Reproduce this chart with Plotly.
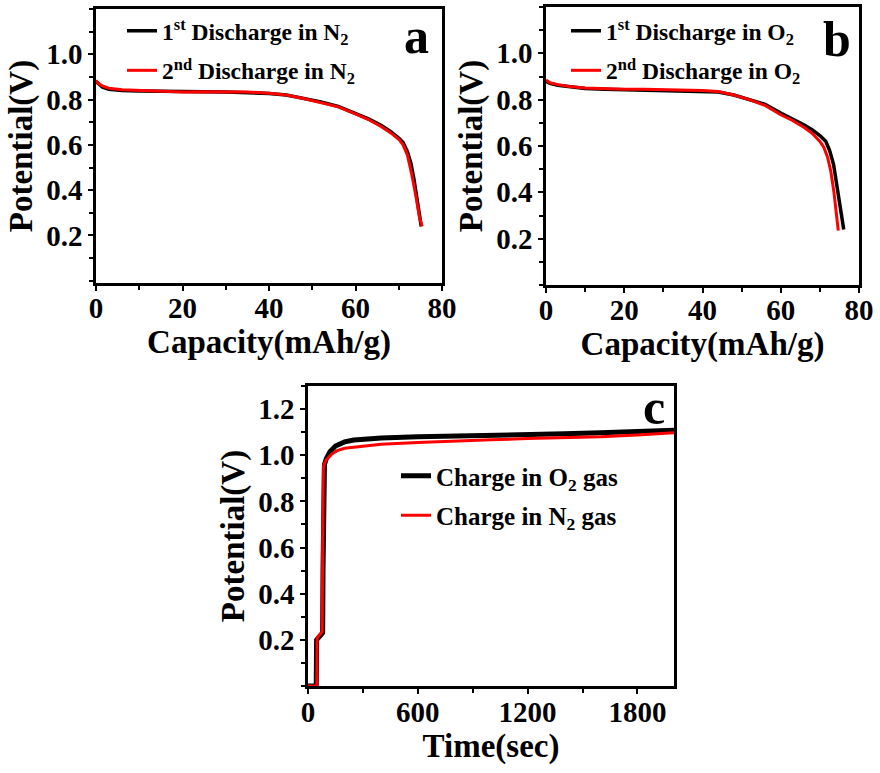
import plotly.graph_objects as go

# ---- Data ----
cap_a1 = [0, 0.5, 1.5, 3, 6, 10, 15, 20, 25, 30, 35, 40, 44, 48, 52, 56, 60, 63, 66, 68, 70, 71, 72, 72.8, 73.5, 74.2, 74.8, 75.2]
pot_a1 = [0.88, 0.87, 0.855, 0.845, 0.84, 0.838, 0.836, 0.834, 0.835, 0.834, 0.832, 0.827, 0.82, 0.805, 0.79, 0.77, 0.74, 0.715, 0.685, 0.66, 0.63, 0.61, 0.57, 0.52, 0.45, 0.37, 0.29, 0.24]
cap_a2 = [0, 0.5, 1.5, 3, 6, 10, 15, 20, 25, 30, 35, 40, 44, 48, 52, 56, 60, 63, 66, 68, 70, 71, 72, 73, 74, 74.8, 75.4]
pot_a2 = [0.885, 0.872, 0.86, 0.85, 0.843, 0.84, 0.836, 0.833, 0.835, 0.836, 0.834, 0.828, 0.82, 0.805, 0.788, 0.768, 0.737, 0.712, 0.68, 0.655, 0.625, 0.60, 0.555, 0.47, 0.37, 0.28, 0.24]

cap_b1 = [0, 1, 3, 6, 10, 15, 20, 25, 30, 35, 40, 44, 48, 52, 56, 60, 63, 66, 68, 70, 71.5, 72.5, 73.5, 74.3, 75, 75.6, 76.1]
pot_b1 = [0.88, 0.87, 0.862, 0.855, 0.848, 0.845, 0.843, 0.842, 0.84, 0.84, 0.838, 0.833, 0.82, 0.80, 0.78, 0.742, 0.717, 0.69, 0.67, 0.645, 0.62, 0.58, 0.52, 0.44, 0.36, 0.29, 0.24]
cap_b2 = [0, 1, 3, 6, 10, 15, 20, 25, 30, 35, 40, 44, 48, 52, 56, 60, 63, 66, 68, 70, 71, 72, 72.8, 73.6, 74.2, 74.7]
pot_b2 = [0.885, 0.873, 0.865, 0.857, 0.85, 0.847, 0.845, 0.845, 0.843, 0.843, 0.84, 0.835, 0.82, 0.80, 0.775, 0.735, 0.71, 0.68, 0.655, 0.62, 0.595, 0.55, 0.49, 0.40, 0.32, 0.235]

time_o2 = [0, 45, 47, 60, 75, 80, 82, 85, 90, 100, 120, 150, 200, 250, 300, 400, 600, 800, 1000, 1200, 1400, 1600, 1800, 2000]
pot_o2 = [0, 0, 0.2, 0.21, 0.22, 0.23, 0.5, 0.93, 0.96, 0.985, 1.015, 1.04, 1.058, 1.066, 1.07, 1.075, 1.08, 1.082, 1.085, 1.09, 1.093, 1.097, 1.103, 1.108]
time_n2 = [0, 48, 50, 60, 78, 80, 84, 90, 100, 130, 160, 200, 300, 400, 600, 800, 1000, 1200, 1400, 1600, 1800, 2000]
pot_n2 = [0, 0, 0.21, 0.22, 0.235, 0.6, 0.95, 0.965, 0.98, 1.005, 1.02, 1.03, 1.04, 1.048, 1.055, 1.062, 1.067, 1.072, 1.075, 1.08, 1.088, 1.097]

names_a = ["1<sup>st</sup> Discharge in N<sub>2</sub>", "2<sup>nd</sup> Discharge in N<sub>2</sub>"]
names_b = ["1<sup>st</sup> Discharge in O<sub>2</sub>", "2<sup>nd</sup> Discharge in O<sub>2</sub>"]
names_c = ["Charge in O<sub>2</sub> gas", "Charge in N<sub>2</sub> gas"]

FONT = "Liberation Serif"
BLACK = "#000000"
RED = "#ff0000"

fig = go.Figure()
fig.add_trace(go.Scatter(x=cap_a1, y=pot_a1, mode="lines", name=names_a[0], line=dict(color=BLACK, width=3.5),
                         xaxis="x", yaxis="y", legend="legend", legendgroup="a1"))
fig.add_trace(go.Scatter(x=cap_a2, y=pot_a2, mode="lines", name=names_a[1], line=dict(color=RED, width=3),
                         xaxis="x", yaxis="y", legend="legend", legendgroup="a2"))
fig.add_trace(go.Scatter(x=cap_b1, y=pot_b1, mode="lines", name=names_b[0], line=dict(color=BLACK, width=3.5),
                         xaxis="x2", yaxis="y2", legend="legend2", legendgroup="b1"))
fig.add_trace(go.Scatter(x=cap_b2, y=pot_b2, mode="lines", name=names_b[1], line=dict(color=RED, width=3),
                         xaxis="x2", yaxis="y2", legend="legend2", legendgroup="b2"))
fig.add_trace(go.Scatter(x=time_o2, y=pot_o2, mode="lines", name=names_c[0], line=dict(color=BLACK, width=5),
                         xaxis="x3", yaxis="y3", legend="legend3", legendgroup="c1"))
fig.add_trace(go.Scatter(x=time_n2, y=pot_n2, mode="lines", name=names_c[1], line=dict(color=RED, width=3),
                         xaxis="x3", yaxis="y3", legend="legend3", legendgroup="c2"))

W, H = 880, 773
def dx(a, b):
    return [a / W, b / W]
def dy(top, bottom):
    return [1 - bottom / H, 1 - top / H]

tickfont = dict(family=FONT, size=29, color="black", weight="bold")
titlefont = dict(family=FONT, size=33, color="black", weight="bold")

def axis(domain, anchor, rng, dtick, minor_dtick, title, standoff, lab_standoff):
    return dict(domain=domain, anchor=anchor, range=rng, dtick=dtick, tick0=0,
                showline=True, mirror=True, linecolor="black", linewidth=2.5,
                ticks="outside", ticklen=5, tickwidth=2, tickcolor="black",
                minor=dict(dtick=minor_dtick, tick0=0, ticks="outside", ticklen=4, tickwidth=2, tickcolor="black"),
                showgrid=False, zeroline=False, tickfont=tickfont, automargin=False,
                ticklabelstandoff=lab_standoff,
                title=dict(text=title, font=titlefont, standoff=standoff))

yt = [0.2, 0.4, 0.6, 0.8, 1.0]
ytc = [0.2, 0.4, 0.6, 0.8, 1.0, 1.2]
xta = [0, 20, 40, 60, 80]
xtc = [0, 600, 1200, 1800]
fig.update_layout(
    width=W, height=H, margin=dict(l=0, r=0, t=0, b=0),
    paper_bgcolor="white", plot_bgcolor="white", showlegend=True,
    font=dict(family=FONT, color="black"),
    xaxis=dict(axis(dx(96, 442), "y", [0, 80], 20, 10, "Capacity(mAh/g)", 0, -8), tickvals=xta),
    yaxis=dict(axis(dy(9, 283), "x", [-0.01, 1.2], 0.2, 0.1, "Potential(V)", 4, 0), tickvals=yt, tickformat=".1f"),
    xaxis2=dict(axis(dx(546, 859), "y2", [0, 80], 20, 10, "Capacity(mAh/g)", 0, -8), tickvals=xta),
    yaxis2=dict(axis(dy(7, 285), "x2", [0, 1.2], 0.2, 0.1, "Potential(V)", 4, 0), tickvals=yt, tickformat=".1f"),
    xaxis3=dict(axis(dx(308, 674), "y3", [0, 2000], 600, 300, "Time(sec)", 0, -7), tickvals=xtc),
    yaxis3=dict(axis(dy(386, 686), "x3", [0, 1.3], 0.2, 0.1, "Potential(V)", 4, 0), tickvals=ytc, tickformat=".1f"),
)

legfont = dict(family=FONT, size=23.5, color="black", weight="bold")
fig.update_layout(
    legend=dict(x=122 / W, y=1 - 9 / H, xanchor="left", yanchor="top", bgcolor="rgba(0,0,0,0)",
                font=legfont, tracegroupgap=6, itemwidth=30),
    legend2=dict(x=566 / W, y=1 - 9 / H, xanchor="left", yanchor="top", bgcolor="rgba(0,0,0,0)",
                 font=legfont, tracegroupgap=6, itemwidth=30),
    legend3=dict(x=396 / W, y=1 - 453 / H, xanchor="left", yanchor="top", bgcolor="rgba(0,0,0,0)",
                 font=dict(family=FONT, size=25, color="black", weight="bold"), tracegroupgap=4, itemwidth=30),
)

labfont = dict(family=FONT, size=50, color="black", weight="bold")
fig.add_annotation(text="a", x=431 / W, y=1 - 6 / H, xref="paper", yref="paper",
                   xanchor="right", yanchor="top", showarrow=False, font=labfont)
fig.add_annotation(text="b", x=853 / W, y=1 - 9 / H, xref="paper", yref="paper",
                   xanchor="right", yanchor="top", showarrow=False, font=labfont)
fig.add_annotation(text="c", x=667 / W, y=1 - 377 / H, xref="paper", yref="paper",
                   xanchor="right", yanchor="top", showarrow=False, font=labfont)

fig.write_html("out.html")
